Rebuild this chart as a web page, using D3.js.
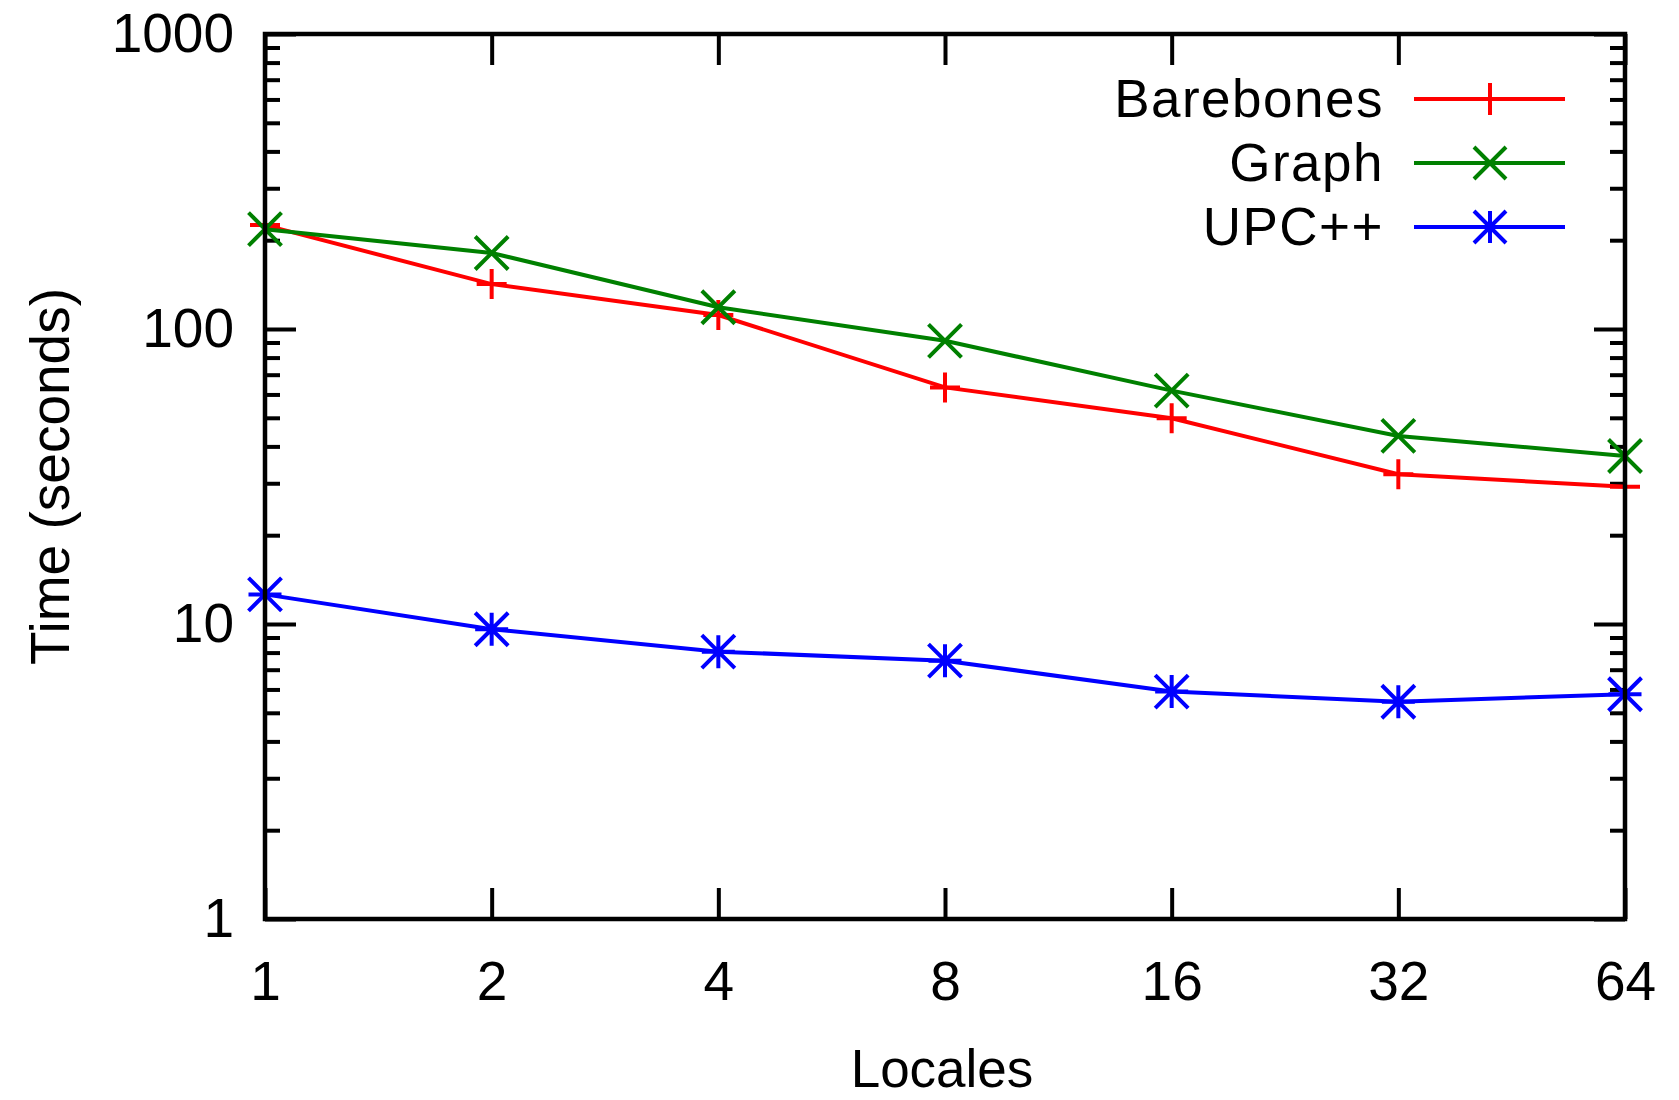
<!DOCTYPE html>
<html>
<head>
<meta charset="utf-8">
<script src="https://cdn.jsdelivr.net/npm/d3@7"></script>
<style>
  body { margin: 0; background: #fff; }
  text { font-family: Arial, "Liberation Sans", Helvetica, sans-serif; fill: #000; }
</style>
</head>
<body>
<div id="chart"></div>
<script>
// Dados
const locales = [1, 2, 4, 8, 16, 32, 64];
const barebones = [225, 142, 111.5, 63.4, 49.8, 32.2, 29.2];
const graphTimes = [218, 181, 118.5, 91.2, 61.8, 43.4, 37.1];
const upcxx = [12.6, 9.6, 8.06, 7.51, 5.9, 5.45, 5.78];

const seriesNames = ['Barebones', 'Graph', 'UPC++'];
const seriesColors = ['#ff0000', '#008000', '#0000ff'];
const seriesMarkers = ['plus', 'cross', 'star'];
const yTicks = [1, 10, 100, 1000];

const width = 1679, height = 1100;
const plotLeft = 265, plotRight = 1625, plotTop = 34, plotBottom = 919;

const svg = d3.select('#chart')
  .append('svg')
  .attr('width', width)
  .attr('height', height);

const x = d3.scaleLog().base(2).domain([1, 64]).range([plotLeft, plotRight]);
const y = d3.scaleLog().domain([1, 1000]).range([plotBottom, plotTop]);

// ticks menores do eixo log (2..9 em cada década)
const minorTicks = [];
for (let d = 1; d < 1000; d *= 10) {
  for (let m = 2; m <= 9; m++) minorTicks.push(d * m);
}

function styleAxis(g) {
  g.select('.domain').remove();
  g.selectAll('.tick line').attr('stroke', '#000').attr('stroke-width', 4);
  g.selectAll('.tick text')
    .attr('font-size', '55px')
    .attr('fill', '#000')
    .attr('font-family', 'Arial, "Liberation Sans", sans-serif');
}

// eixo y esquerdo
svg.append('g')
  .attr('transform', `translate(${plotLeft},0)`)
  .call(d3.axisLeft(y).tickValues(yTicks).tickFormat(d3.format('d')).tickSize(-31).tickPadding(31))
  .call(styleAxis);

svg.append('g')
  .attr('transform', `translate(${plotLeft},0)`)
  .call(d3.axisLeft(y).tickValues(minorTicks).tickFormat('').tickSize(-15))
  .call(styleAxis);

// eixo y direito (espelho)
svg.append('g')
  .attr('transform', `translate(${plotRight},0)`)
  .call(d3.axisRight(y).tickValues(yTicks).tickFormat('').tickSize(-31))
  .call(styleAxis);

svg.append('g')
  .attr('transform', `translate(${plotRight},0)`)
  .call(d3.axisRight(y).tickValues(minorTicks).tickFormat('').tickSize(-15))
  .call(styleAxis);

// eixo x
svg.append('g')
  .attr('transform', `translate(0,${plotBottom})`)
  .call(d3.axisBottom(x).tickValues(locales).tickFormat(d3.format('d')).tickSize(-31).tickPadding(42))
  .call(styleAxis);

svg.append('g')
  .attr('transform', `translate(0,${plotTop})`)
  .call(d3.axisTop(x).tickValues(locales).tickFormat('').tickSize(-31))
  .call(styleAxis);

// linhas e marcadores
const allSeries = [barebones, graphTimes, upcxx];

function markerPath(type, s) {
  const p = d3.path();
  if (type === 'plus' || type === 'star') {
    p.moveTo(-s, 0); p.lineTo(s, 0);
    p.moveTo(0, -s); p.lineTo(0, s);
  }
  if (type === 'cross' || type === 'star') {
    p.moveTo(-s, -s); p.lineTo(s, s);
    p.moveTo(-s, s); p.lineTo(s, -s);
  }
  return p.toString();
}

const line = d3.line()
  .x((d, i) => x(locales[i]))
  .y(d => y(d));

allSeries.forEach((values, k) => {
  svg.append('path')
    .datum(values)
    .attr('d', line)
    .attr('fill', 'none')
    .attr('stroke', seriesColors[k])
    .attr('stroke-width', 4);

  const size = seriesMarkers[k] === 'plus' ? 15 : 16.5;
  svg.selectAll(null)
    .data(values)
    .enter()
    .append('path')
    .attr('transform', (d, i) => `translate(${x(locales[i])},${y(d)})`)
    .attr('d', markerPath(seriesMarkers[k], size))
    .attr('fill', 'none')
    .attr('stroke', seriesColors[k])
    .attr('stroke-width', 4);
});

// borda
svg.append('rect')
  .attr('x', plotLeft)
  .attr('y', plotTop)
  .attr('width', plotRight - plotLeft)
  .attr('height', plotBottom - plotTop)
  .attr('fill', 'none')
  .attr('stroke', '#000')
  .attr('stroke-width', 4.5);

// legenda
const legendY = [99, 163, 227];
seriesNames.forEach((name, k) => {
  const g = svg.append('g').attr('transform', `translate(0,${legendY[k]})`);
  g.append('text')
    .attr('x', 1384)
    .attr('dy', '0.34em')
    .attr('text-anchor', 'end')
    .attr('font-size', '53px')
    .attr('letter-spacing', '1.5px')
    .text(name);
  g.append('line')
    .attr('x1', 1414).attr('x2', 1565)
    .attr('stroke', seriesColors[k])
    .attr('stroke-width', 4);
  g.append('path')
    .attr('transform', 'translate(1490,0)')
    .attr('d', markerPath(seriesMarkers[k], 16))
    .attr('fill', 'none')
    .attr('stroke', seriesColors[k])
    .attr('stroke-width', 4);
});

// títulos dos eixos
svg.append('text')
  .attr('x', (plotLeft + plotRight) / 2 - 3)
  .attr('y', 1087)
  .attr('text-anchor', 'middle')
  .attr('font-size', '53px')
  .text('Locales');

svg.append('text')
  .attr('transform', `translate(69,${(plotTop + plotBottom) / 2}) rotate(-90)`)
  .attr('text-anchor', 'middle')
  .attr('font-size', '55px')
  .text('Time (seconds)');
</script>
</body>
</html>
